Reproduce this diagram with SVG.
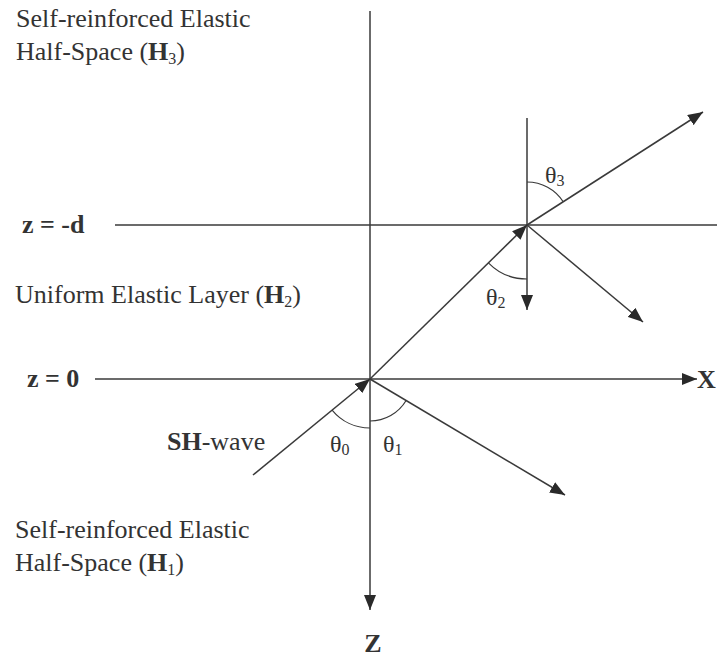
<svg xmlns="http://www.w3.org/2000/svg" width="717" height="657" viewBox="0 0 717 657">
<style>
.ln{stroke:#3a3a3a;stroke-width:1.5;fill:none}
.ar{stroke:#3a3a3a;stroke-width:1.2;fill:none}
text{font-family:"Liberation Serif","Times New Roman",serif;fill:#333}
.lb{font-size:26px}
.b{font-weight:bold}
.th{font-size:24px}
.sub{font-size:16px}
</style>
<defs>
<marker id="ah" markerUnits="userSpaceOnUse" markerWidth="16" markerHeight="12" refX="15" refY="6" orient="auto">
<path d="M0,0 L15,6 L0,12 z" fill="#2a2a2a"/>
</marker>
</defs>
<rect width="717" height="657" fill="#ffffff"/>
<g id="connectors">
<line class="ln" x1="370" y1="11" x2="370" y2="610" marker-end="url(#ah)"/>
<line class="ln" x1="95" y1="379" x2="697" y2="379" marker-end="url(#ah)"/>
<line class="ln" x1="115" y1="225" x2="717" y2="225"/>
<line class="ln" x1="527" y1="118" x2="527" y2="310" marker-end="url(#ah)"/>
<line class="ln" x1="253" y1="475" x2="370" y2="379" marker-end="url(#ah)"/>
<line class="ln" x1="370" y1="379" x2="527" y2="225" marker-end="url(#ah)"/>
<line class="ln" x1="527" y1="225" x2="703" y2="112" marker-end="url(#ah)"/>
<line class="ln" x1="527" y1="225" x2="643" y2="322" marker-end="url(#ah)"/>
<line class="ln" x1="370" y1="379" x2="565" y2="495" marker-end="url(#ah)"/>
</g>
<g id="angles">
<path class="ar" d="M332.1,410.1 A49,49 0 0,0 370,428"/>
<path class="ar" d="M370,421 A42,42 0 0,0 406.1,400.5"/>
<path class="ar" d="M488.4,262.8 A54,54 0 0,0 527,279"/>
<path class="ar" d="M527,182 A43,43 0 0,1 563.2,201.8"/>
</g>
<g id="H3">
<text class="lb" x="16" y="27">Self-reinforced Elastic</text>
<text class="lb" x="16" y="60">Half-Space (<tspan class="b">H</tspan><tspan class="sub" dy="4">3</tspan><tspan dy="-4">)</tspan></text>
</g>
<g id="zd"><text class="lb b" x="22" y="233">z = -d</text></g>
<g id="H2"><text class="lb" x="15" y="303">Uniform Elastic Layer (<tspan class="b">H</tspan><tspan class="sub" dy="4">2</tspan><tspan dy="-4">)</tspan></text></g>
<g id="z0"><text class="lb b" x="27" y="387">z = 0</text></g>
<g id="sh"><text class="lb" x="167" y="450"><tspan class="b">SH</tspan>-wave</text></g>
<g id="t0"><text class="th" x="330" y="452">θ<tspan class="sub" dy="3">0</tspan></text></g>
<g id="t1"><text class="th" x="383" y="452">θ<tspan class="sub" dy="3">1</tspan></text></g>
<g id="t2"><text class="th" x="486" y="305">θ<tspan class="sub" dy="3">2</tspan></text></g>
<g id="t3"><text class="th" x="545" y="183">θ<tspan class="sub" dy="3">3</tspan></text></g>
<g id="H1">
<text class="lb" x="15" y="538">Self-reinforced Elastic</text>
<text class="lb" x="15" y="571">Half-Space (<tspan class="b">H</tspan><tspan class="sub" dy="4">1</tspan><tspan dy="-4">)</tspan></text>
</g>
<g id="Zlab"><text class="lb b" x="373" y="652" text-anchor="middle">Z</text></g>
<g id="Xlab"><text class="lb b" x="697" y="388">X</text></g>
</svg>
